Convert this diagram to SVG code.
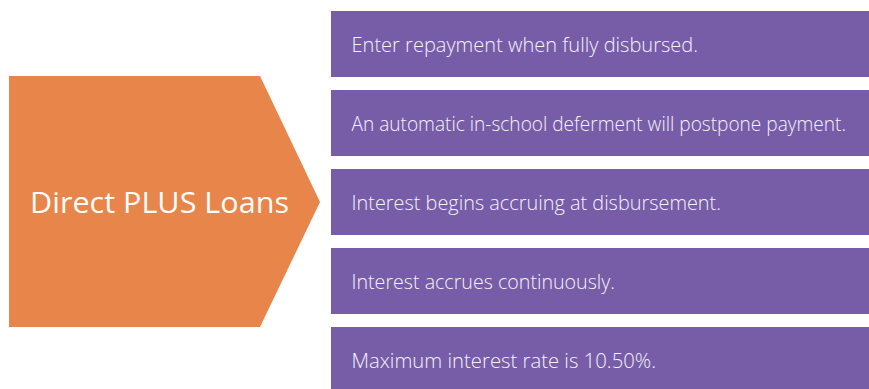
<svg xmlns="http://www.w3.org/2000/svg" width="869" height="389" viewBox="0 0 869 389">
<style>
.box{fill:#775DA7}
.t{font-family:"Open Sans","Noto Sans",sans-serif;font-size:19.8px;font-weight:300;fill:#F4F2F8}
.h{font-family:"Open Sans","Noto Sans",sans-serif;font-size:29px;font-weight:400;fill:#FFFFFF}
</style>
<rect width="869" height="389" fill="#FFFFFF"/>
<g id="main">
<polygon points="9,76 260,76 320,202 260,327 9,327" fill="#E8854B"/>
<text class="h" x="30" y="213.3" textLength="259" lengthAdjust="spacingAndGlyphs">Direct PLUS Loans</text>
</g>
<g id="item1"><rect class="box" x="331" y="11" width="538" height="66"/><text class="t" x="351.5" y="52.3" textLength="346.5" lengthAdjust="spacingAndGlyphs">Enter repayment when fully disbursed.</text></g>
<g id="item2"><rect class="box" x="331" y="90" width="538" height="66"/><text class="t" x="351.5" y="131" textLength="494.5" lengthAdjust="spacingAndGlyphs">An automatic in-school deferment will postpone payment.</text></g>
<g id="item3"><rect class="box" x="331" y="169" width="538" height="66"/><text class="t" x="351.5" y="209.7" textLength="369.5" lengthAdjust="spacingAndGlyphs">Interest begins accruing at disbursement.</text></g>
<g id="item4"><rect class="box" x="331" y="248" width="538" height="66"/><text class="t" x="351.5" y="288.7" textLength="263.5" lengthAdjust="spacingAndGlyphs">Interest accrues continuously.</text></g>
<g id="item5"><rect class="box" x="331" y="327" width="538" height="62"/><text class="t" x="351.5" y="367.5" textLength="304.5" lengthAdjust="spacingAndGlyphs">Maximum interest rate is 10.50%.</text></g>
<g id="connectors"/>
</svg>
